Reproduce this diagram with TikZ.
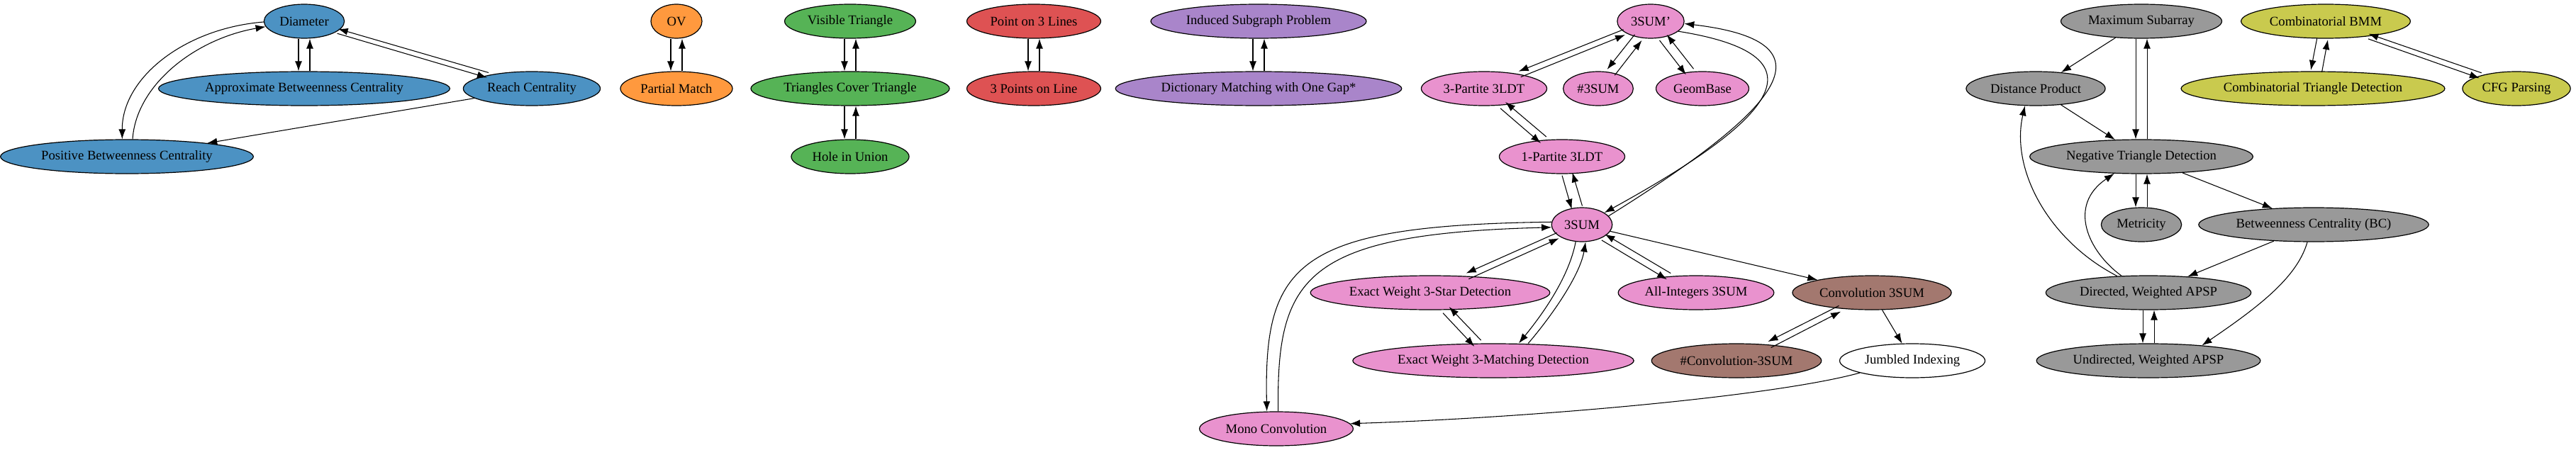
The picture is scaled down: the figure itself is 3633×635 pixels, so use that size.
\documentclass[tikz,border=0pt]{standalone}
\usepackage{fontspec}
\setmainfont{Liberation Serif}
\usepackage{tikz}
\usetikzlibrary{shapes}
\usetikzlibrary{arrows.meta}
\usetikzlibrary{calc}

\definecolor{bleu}{RGB}{76,146,195}
\definecolor{orange}{RGB}{255,153,62}
\definecolor{vert}{RGB}{86,179,86}
\definecolor{rouge}{RGB}{222,82,83}
\definecolor{violet}{RGB}{169,133,202}
\definecolor{brun}{RGB}{163,120,111}
\definecolor{rose}{RGB}{233,146,206}
\definecolor{gris}{RGB}{153,153,153}
\definecolor{olive}{RGB}{201,202,78}

\tikzstyle{pb}=[ellipse,draw,text=black,line width=0.9pt,
        inner xsep=4pt,inner ysep=2pt,
        minimum width=54pt,minimum height=36pt,
        font=\fontsize{14pt}{17pt}\selectfont]
\tikzstyle{suite}=[-{Latex[length=10.5pt,width=7.5pt]},line width=0.8pt]

% deux fleches paralleles a <-> b
\newcommand{\allerretour}[2]{%
  \draw[suite] let \p1=($(#2)-(#1)$), \n1={atan2(\y1,\x1)}, \n2={\n1+180},
      \n3={(4.5*abs(sin(\n1))+1.5)*1pt} in
    ([shift={(\n1-90:\n3)}]#1.\n1) -- ([shift={(\n1-90:\n3)}]#2.\n2);
  \draw[suite] let \p1=($(#1)-(#2)$), \n1={atan2(\y1,\x1)}, \n2={\n1+180},
      \n3={(4.5*abs(sin(\n1))+1.5)*1pt} in
    ([shift={(\n1-90:\n3)}]#2.\n1) -- ([shift={(\n1-90:\n3)}]#1.\n2);
}

\begin{document}
\begin{tikzpicture}[x=0.75pt,y=-0.75pt]
\useasboundingbox (0,0) rectangle (3633,635);
% bleu
\node[pb,fill=bleu] (diam) at (429,30) {Diameter};
\node[pb,fill=bleu] (approx) at (429,125) {Approximate Betweenness Centrality};
\node[pb,fill=bleu] (reach) at (750,125) {Reach Centrality};
\node[pb,fill=bleu] (posbc) at (179,221) {Positive Betweenness Centrality};
% orange, vert, rouge, violet
\node[pb,fill=orange] (ov) at (954,30) {OV};
\node[pb,fill=orange] (pmatch) at (954,125) {Partial Match};
\node[pb,fill=vert] (vistri) at (1199,30) {Visible Triangle};
\node[pb,fill=vert] (tricov) at (1199,125) {Triangles Cover Triangle};
\node[pb,fill=vert] (hole) at (1199,221) {Hole in Union};
\node[pb,fill=rouge] (pt3) at (1458,30) {Point on 3 Lines};
\node[pb,fill=rouge] (pts3) at (1458,125) {3 Points on Line};
\node[pb,fill=violet] (induced) at (1775,30) {Induced Subgraph Problem};
\node[pb,fill=violet] (dict) at (1775,125) {Dictionary Matching with One Gap*};
% rose, brun
\node[pb,fill=rose] (sumprime) at (2328,30) {3SUM'};
\node[pb,fill=rose] (part3) at (2093,125) {3-Partite 3LDT};
\node[pb,fill=rose] (nsum) at (2254,125) {\#3SUM};
\node[pb,fill=rose] (geom) at (2401,125) {GeomBase};
\node[pb,fill=rose] (part1) at (2203,221) {1-Partite 3LDT};
\node[pb,fill=rose] (sum) at (2231,317) {3SUM};
\node[pb,fill=rose] (star) at (2017,413) {Exact Weight 3-Star Detection};
\node[pb,fill=rose] (allint) at (2392,413) {All-Integers 3SUM};
\node[pb,fill=brun] (conv) at (2640,413) {Convolution 3SUM};
\node[pb,fill=rose] (match) at (2106,509) {Exact Weight 3-Matching Detection};
\node[pb,fill=brun] (nconv) at (2449,509) {\#Convolution-3SUM};
\node[pb,fill=white] (jumbled) at (2697,509) {Jumbled Indexing};
\node[pb,fill=rose] (mono) at (1800,605) {Mono Convolution};
% gris, olive
\node[pb,fill=gris] (maxsub) at (3020,30) {Maximum Subarray};
\node[pb,fill=gris] (dist) at (2871,125) {Distance Product};
\node[pb,fill=gris] (neg) at (3020,221) {Negative Triangle Detection};
\node[pb,fill=gris] (metric) at (3020,317) {Metricity};
\node[pb,fill=gris] (bc) at (3263,317) {Betweenness Centrality (BC)};
\node[pb,fill=gris] (dapsp) at (3030,413) {Directed, Weighted APSP};
\node[pb,fill=gris] (uapsp) at (3030,509) {Undirected, Weighted APSP};
\node[pb,fill=olive] (bmm) at (3280,30) {Combinatorial BMM};
\node[pb,fill=olive] (ctd) at (3262,125) {Combinatorial Triangle Detection};
\node[pb,fill=olive] (cfg) at (3549,125) {CFG Parsing};
%Placement des fleches
\allerretour{diam}{approx}
\allerretour{diam}{reach}
\draw[suite] (diam.181) .. controls (260,40) and (172,110) .. ([xshift=-5pt]posbc.north);
\draw[suite] ([xshift=6pt]posbc.north) .. controls (192,120) and (275,55) .. (diam.188);
\draw[suite] (reach) -- (posbc);
\allerretour{ov}{pmatch}
\allerretour{vistri}{tricov}
\allerretour{tricov}{hole}
\allerretour{pt3}{pts3}
\allerretour{induced}{dict}
\allerretour{sumprime}{part3}
\allerretour{sumprime}{nsum}
\allerretour{sumprime}{geom}
\allerretour{part3}{part1}
\allerretour{part1}{sum}
\draw[suite] (sumprime.-20) .. controls (2590,80) and (2490,175) .. (sum.28);
\draw[suite] (sum.18) .. controls (2500,160) and (2600,60) .. (sumprime.-4);
\allerretour{sum}{star}
\allerretour{sum}{allint}
\allerretour{star}{match}
\draw[suite] (sum.-110) .. controls (2212,395) and (2170,450) .. ([xshift=27pt]match.north);
\draw[suite] ([xshift=37pt]match.north) .. controls (2185,450) and (2228,390) .. (sum.-78);
\draw[suite] (sum.175) .. controls (1830,318) and (1782,370) .. ([xshift=-10pt]mono.north);
\draw[suite] ([xshift=2pt]mono.north) .. controls (1800,390) and (1840,330) .. (sum.185);
\draw[suite] (sum) -- (conv);
\allerretour{conv}{nconv}
\draw[suite] (conv) -- (jumbled);
\draw[suite] (jumbled.193) .. controls (2500,560) and (2150,590) .. (mono.4);
\draw[suite] (maxsub) -- (dist);
\allerretour{maxsub}{neg}
\draw[suite] (dist) -- (neg);
\allerretour{neg}{metric}
\draw[suite] (neg) -- (bc);
\draw[suite] (bc) -- (dapsp);
\draw[suite] (bc.-110) .. controls (3240,390) and (3190,430) .. (uapsp.16);
\draw[suite] (dapsp.152) .. controls (2890,340) and (2835,240) .. (dist.-122);
\draw[suite] (dapsp.148) .. controls (2945,355) and (2915,290) .. (neg.-148);
\allerretour{dapsp}{uapsp}
\allerretour{bmm}{ctd}
\allerretour{bmm}{cfg}
\end{tikzpicture}
\end{document}
